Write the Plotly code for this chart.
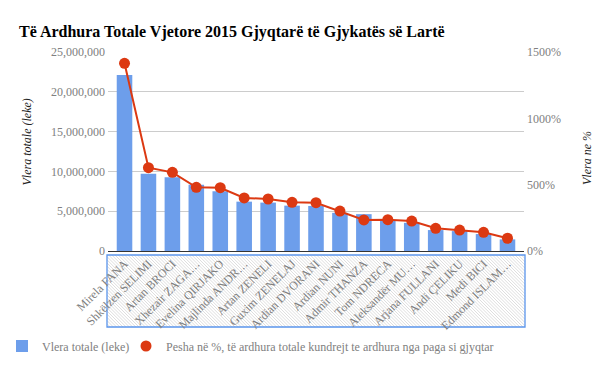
import plotly.graph_objects as go

names = ["Mirela FANA", "Shkëlzen SELIMI", "Artan BROCI", "Xhezair ZAGA…", "Evelina QIRJAKO",
         "Majlinda ANDR…", "Artan ZENELI", "Guxim ZENELAJ", "Ardian DVORANI", "Ardian NUNI",
         "Admir THANZA", "Tom NDRECA", "Aleksandër MU…", "Arjana FULLANI", "Andi ÇELIKU",
         "Medi BICI", "Edmond ISLAM…"]
totals = [22100000, 9710000, 9250000, 8330000, 7500000, 6200000, 6080000, 5700000, 5660000,
          4790000, 4630000, 3800000, 3540000, 2630000, 2500000, 2130000, 1460000]
pct = [1415, 628, 593, 480, 477, 400, 392, 367, 364, 301, 234, 236, 226, 171, 158, 141, 96]

left_ticks = [0, 5000000, 10000000, 15000000, 20000000, 25000000]
right_ticks = [0, 500, 1000, 1500]
right_labels = ["0%", "500%", "1000%", "1500%"]

W, H = 613, 371
L, R, T, B = 108, 89, 52, 120
PW, PH = W - L - R, H - T - B
FONT = "Times New Roman, Liberation Serif, serif"
BLUE = "#6d9eeb"
RED = "#dc3912"
GRAY = "#808080"

def px(x):
    return (x - L) / PW

def py(y):
    return (H - B - y) / PH

fig = go.Figure()
fig.add_trace(go.Bar(x=names, y=totals, name="Vlera totale (leke)", marker_color=BLUE,
                     marker_line_width=0, legend="legend"))
fig.add_trace(go.Scatter(x=names, y=pct, mode="lines", yaxis="y2", showlegend=False,
                         line=dict(color=RED, width=2)))
fig.add_trace(go.Scatter(x=names, y=pct, mode="markers", yaxis="y2", legend="legend2",
                         name="Pesha në %, të ardhura totale kundrejt te ardhura nga paga si gjyqtar",
                         marker=dict(color=RED, size=11)))

# hatched highlight box behind x labels
X1, X2, Y1, Y2 = 107, 525, 255, 327
segs = []
k = X1 - Y2
while k < X2 - Y1:
    xa = max(X1, Y1 + k); xb = min(X2, Y2 + k)
    if xb > xa:
        ya, yb = xa - k, xb - k
        segs.append(f"M{px(xa):.5f},{py(ya):.5f}L{px(xb):.5f},{py(yb):.5f}")
    k += 3.2
fig.add_shape(type="path", path="".join(segs), xref="paper", yref="paper",
              line=dict(color="#dedede", width=1), layer="below")
fig.add_shape(type="rect", x0=px(X1), x1=px(X2), y0=py(Y1), y1=py(Y2), xref="paper", yref="paper",
              line=dict(color="#5b95ec", width=1.3), layer="below")

fig.add_annotation(text="Vlera totale (leke)", xref="paper", yref="paper", x=px(17), y=py(188),
                   textangle=-90, showarrow=False, font=dict(family=FONT, size=12, color="#222", style="italic"))
fig.add_annotation(text="Vlera ne %", xref="paper", yref="paper", x=px(596), y=py(187),
                   textangle=-90, showarrow=False, font=dict(family=FONT, size=12, color="#222", style="italic"))

legfont = dict(family=FONT, size=12, color=GRAY)
fig.update_layout(
    width=W, height=H, margin=dict(l=L, r=R, t=T, b=B, autoexpand=False),
    paper_bgcolor="white", plot_bgcolor="white",
    font=dict(family=FONT, size=12, color=GRAY),
    title=dict(text="Të Ardhura Totale Vjetore 2015 Gjyqtarë të Gjykatës së Lartë",
               x=19 / W, xanchor="left", xref="container", y=1 - 31 / H, yanchor="middle", yref="container",
               font=dict(family=FONT, size=16, color="#000", weight="bold"), automargin=False),
    bargap=0.35,
    xaxis=dict(range=[-0.69, 16.69], tickangle=-45, showline=True, linecolor="#333", linewidth=1,
               tickfont=dict(family=FONT, size=12, color=GRAY), showgrid=False, ticks="",
               automargin=False),
    yaxis=dict(range=[0, 25000000], tickvals=left_ticks, tickformat=",d", showgrid=True,
               gridcolor="#cccccc", zeroline=False, tickfont=dict(family=FONT, size=12, color=GRAY),
               ticklabelstandoff=2, automargin=False),
    yaxis2=dict(range=[0, 1500], tickvals=right_ticks, ticktext=right_labels, overlaying="y", side="right",
                showgrid=False, zeroline=False, tickfont=dict(family=FONT, size=12, color=GRAY),
                ticklabelstandoff=2, automargin=False),
    legend=dict(orientation="h", xref="paper", yref="container", x=px(2), y=1 - 346 / H,
                yanchor="middle", xanchor="left", font=legfont, bgcolor="rgba(0,0,0,0)"),
    legend2=dict(orientation="h", xref="paper", yref="container", x=px(126), y=1 - 346 / H,
                 yanchor="middle", xanchor="left", font=legfont, bgcolor="rgba(0,0,0,0)"),
    showlegend=True,
)
fig.write_html("out.html", config={"displayModeBar": False},
               post_script="document.body.style.margin='0';")
